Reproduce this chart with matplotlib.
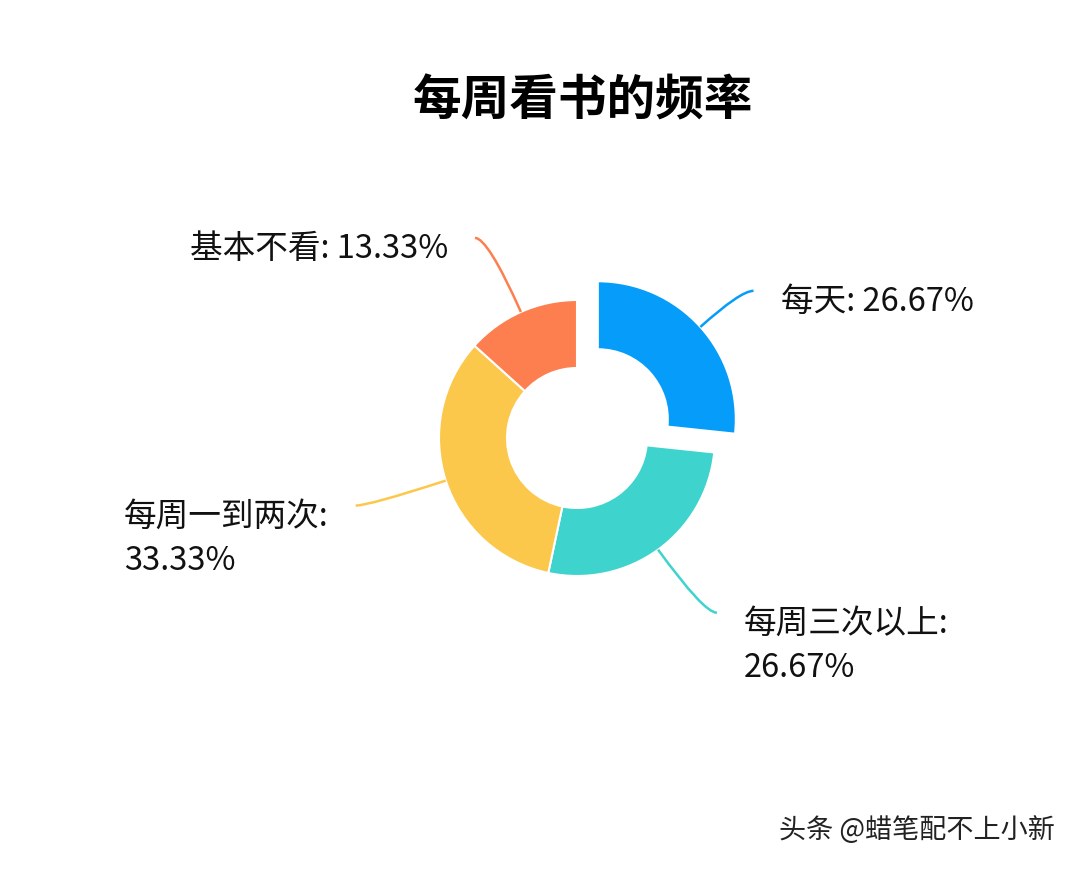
import math
import matplotlib
matplotlib.use("Agg")
import matplotlib.pyplot as plt
from matplotlib.path import Path
from matplotlib.patches import PathPatch

plt.rcParams['font.family'] = ['Noto Sans CJK SC', 'DejaVu Sans']

# ---- data ----
title = '每周看书的频率'
categories = ['每天', '每周三次以上', '每周一到两次', '基本不看']
values = [26.67, 26.67, 33.33, 13.33]
label_breaks = [' ', '\n', '\n', ' ']
colors = ['#069CFA', '#3ED4CD', '#FCC84B', '#FD7F4F']
watermark = '头条 @蜡笔配不上小新'

# ---- layout (pixels, y measured from top) ----
W, H = 1080, 870
cx, cy_top = 577, 439
R, ring = 138, 68
explode = [28, 0, 0, 0]
leader_len1 = [54, 78, 81, 81]
leader_len2 = 13
text_gap = 27

fig = plt.figure(figsize=(W / 100, H / 100), dpi=100)
ax = fig.add_axes([0, 0, 1, 1])

wedges, _ = ax.pie(values, colors=colors, startangle=90, counterclock=False,
                   radius=R, center=(cx, H - cy_top), explode=explode,
                   wedgeprops=dict(width=ring, edgecolor='white', linewidth=1.5),
                   frame=True)
ax.set_xlim(0, W)
ax.set_ylim(0, H)
ax.axis('off')

for i, w in enumerate(wedges):
    ang = math.radians((w.theta1 + w.theta2) / 2)
    c, s = math.cos(ang), math.sin(ang)
    x0, y0 = w.center
    sx, sy = x0 + w.r * c, y0 + w.r * s
    kx, ky = sx + leader_len1[i] * c, sy + leader_len1[i] * s
    side = 1 if c > 0 else -1
    ex, ey = kx + side * leader_len2, ky
    path = Path([(sx, sy), (kx, ky), (ex, ey)], [Path.MOVETO, Path.CURVE3, Path.CURVE3])
    ax.add_patch(PathPatch(path, facecolor='none', edgecolor=colors[i], lw=1.8))
    txt = f'{categories[i]}:{label_breaks[i]}{values[i]:.2f}%'
    ax.text(ex + side * text_gap, ey + 6, txt,
            ha='left' if side > 0 else 'right', multialignment='left',
            va='top', fontsize=23.5, color='#111111', linespacing=1.5)

ax.text(583, H - 101, title, ha='center', va='center', fontsize=35,
        fontweight='bold', color='#000000')
ax.text(1055, H - 830, watermark, ha='right', va='center', fontsize=19.5,
        color='#222222')

fig.savefig('out.png', dpi=100, facecolor='white')
